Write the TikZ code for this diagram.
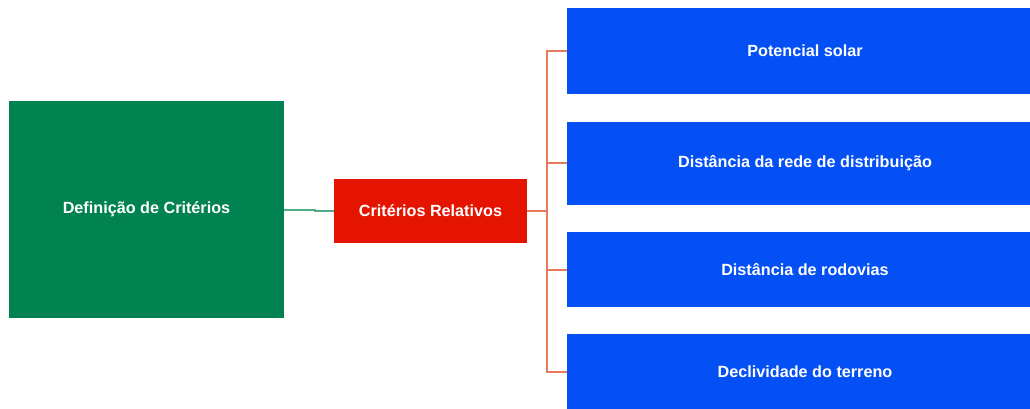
\documentclass[tikz,border=0pt]{standalone}
\usepackage{fontspec}
\setmainfont{Liberation Sans}
\definecolor{gbox}{HTML}{008251}
\definecolor{rbox}{HTML}{E51400}
\definecolor{bbox}{HTML}{0550F5}
\definecolor{gline}{HTML}{4FAE86}
\definecolor{rline}{HTML}{E8795A}
\begin{document}
\begin{tikzpicture}[x=0.75pt,y=-0.75pt,
  boxs/.style={draw=none,inner sep=0pt,text=white,font=\bfseries\fontsize{12.15}{14}\selectfont},
  gconn/.style={draw=gline,line width=1.1pt},
  rconn/.style={draw=rline,line width=1.4pt}]
\useasboundingbox (0,0) rectangle (1030,409);
\begin{scope}
\clip (0,0) rectangle (1030,409);
\fill[gbox] (9,101) rectangle (284,318);
\node[boxs] (g) at (146.5,209.5) {Definição de Critérios};
\fill[rbox] (334,179) rectangle (527,243);
\node[boxs] (r) at (430.5,211) {Critérios Relativos};
\fill[bbox] (567,8) rectangle (1043,94);
\fill[bbox] (567,122) rectangle (1043,205);
\fill[bbox] (567,232) rectangle (1043,307);
\fill[bbox] (567,334) rectangle (1043,410);
\node[boxs] (b1) at (805,51) {Potencial solar};
\node[boxs] (b2) at (805,163) {Distância da rede de distribuição};
\node[boxs] (b3) at (805,270) {Distância de rodovias};
\node[boxs] (b4) at (805,372) {Declividade do terreno};
\coordinate (gE) at (284,210);
\coordinate (rW) at (334,211);
\coordinate (rE) at (527,211);
\coordinate (t) at (547,211);
\coordinate (w1) at (567,51);
\coordinate (w2) at (567,163);
\coordinate (w3) at (567,270);
\coordinate (w4) at (567,372);
\draw[gconn] (gE) -- ++(31,0) |- (rW);
\draw[rconn] (rE) -- (t);
\draw[rconn] (t) |- (w1);
\draw[rconn] (t) |- (w2);
\draw[rconn] (t) |- (w3);
\draw[rconn] (t) |- (w4);
\end{scope}
\end{tikzpicture}
\end{document}
